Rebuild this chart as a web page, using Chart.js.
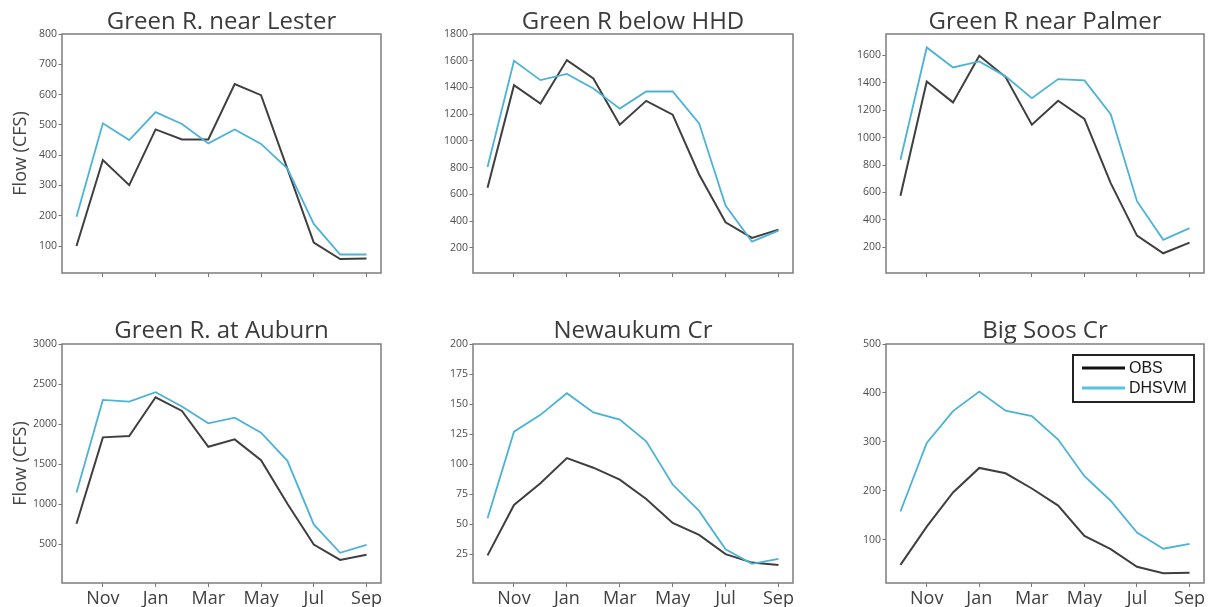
<!DOCTYPE html>
<html>
<head>
<meta charset="utf-8">
<title>Monthly mean flow, OBS vs DHSVM</title>
<script src="https://cdn.jsdelivr.net/npm/chart.js@4.4.1/dist/chart.umd.min.js"></script>
<style>
  html, body { margin: 0; padding: 0; background: #fff; }
  body { width: 1212px; height: 607px; position: relative; overflow: hidden; }
  canvas { position: absolute; }
</style>
</head>
<body>
<canvas id="lester"></canvas>
<canvas id="hhd"></canvas>
<canvas id="palmer"></canvas>
<canvas id="auburn"></canvas>
<canvas id="newaukum"></canvas>
<canvas id="soos"></canvas>
<script>
// water year, Oct..Sep
const months = ['Oct', 'Nov', 'Dec', 'Jan', 'Feb', 'Mar', 'Apr', 'May', 'Jun', 'Jul', 'Aug', 'Sep'];
const monthTicks = [1, 3, 5, 7, 9, 11];

// mean monthly flow (CFS)
const lesterObs   = [100, 384, 301, 485, 452, 452, 635, 598, 355, 111, 57, 59];
const lesterSim   = [197, 505, 450, 542, 503, 439, 485, 437, 356, 173, 72, 72];
const hhdObs      = [650, 1417, 1280, 1605, 1467, 1122, 1300, 1197, 750, 392, 275, 337];
const hhdSim      = [805, 1600, 1455, 1502, 1392, 1242, 1370, 1370, 1132, 517, 247, 330];
const palmerObs   = [575, 1410, 1257, 1598, 1442, 1094, 1269, 1137, 668, 285, 156, 234];
const palmerSim   = [838, 1658, 1512, 1556, 1447, 1288, 1427, 1417, 1171, 536, 254, 339];
const auburnObs   = [759, 1836, 1852, 2336, 2165, 1719, 1811, 1552, 1009, 500, 308, 371];
const auburnSim   = [1147, 2303, 2282, 2399, 2220, 2011, 2082, 1894, 1543, 750, 396, 496];
const newaukumObs = [24, 66, 84, 105, 97, 87, 71, 51, 41, 25, 18, 16];
const newaukumSim = [55, 127, 141, 159, 143, 137, 119, 83, 61, 29, 17, 21];
const soosObs     = [49, 127, 197, 247, 236, 205, 170, 108, 81, 45, 32, 33];
const soosSim     = [158, 298, 363, 403, 364, 353, 305, 230, 180, 115, 82, 92];

// y tick labels per gauge
const lesterTicks   = [100, 200, 300, 400, 500, 600, 700, 800];
const hhdTicks      = [200, 400, 600, 800, 1000, 1200, 1400, 1600, 1800];
const palmerTicks   = [200, 400, 600, 800, 1000, 1200, 1400, 1600];
const auburnTicks   = [500, 1000, 1500, 2000, 2500, 3000];
const newaukumTicks = [25, 50, 75, 100, 125, 150, 175, 200];
const soosTicks     = [100, 200, 300, 400, 500];

const OBS_COLOR = '#3f3f3f';
const SIM_COLOR = '#4cb3d6';

Chart.defaults.font.family = "'Open Sans', sans-serif";
Chart.defaults.color = '#444';

// box around the plot area
const frame = {
  id: 'frame',
  afterDatasetsDraw(chart) {
    const a = chart.chartArea, ctx = chart.ctx;
    ctx.save();
    ctx.strokeStyle = '#7d7d7d';
    ctx.lineWidth = 1.5;
    ctx.strokeRect(a.left, a.top, a.right - a.left, a.bottom - a.top);
    ctx.restore();
  }
};

// boxed legend in the upper right corner
const boxLegend = {
  id: 'boxLegend',
  afterDraw(chart) {
    const a = chart.chartArea, ctx = chart.ctx;
    const w = 121, h = 47;
    const x = a.right - 10 - w, y = a.top + 11;
    ctx.save();
    ctx.fillStyle = '#fff';
    ctx.fillRect(x, y, w, h);
    ctx.strokeStyle = '#222';
    ctx.lineWidth = 2;
    ctx.strokeRect(x, y, w, h);
    ctx.font = "16px 'Liberation Sans', Arial, sans-serif";
    ctx.textBaseline = 'middle';
    const items = [...chart.data.datasets].sort((p, q) => p.legendIndex - q.legendIndex);
    items.forEach((ds, i) => {
      const ly = y + 13 + i * 20;
      ctx.strokeStyle = ds.legendColor;
      ctx.lineWidth = 3;
      ctx.beginPath();
      ctx.moveTo(x + 9, ly);
      ctx.lineTo(x + 52, ly);
      ctx.stroke();
      ctx.fillStyle = '#1a1a1a';
      ctx.fillText(ds.label, x + 56, ly + 1);
    });
    ctx.restore();
  }
};

function points(values) {
  return values.map((v, i) => ({ x: i, y: v }));
}

function panel(id, cfg) {
  const canvas = document.getElementById(id);
  canvas.width = cfg.w;
  canvas.height = cfg.h;
  canvas.style.left = cfg.left + 'px';
  canvas.style.top = cfg.top + 'px';

  return new Chart(canvas, {
    type: 'line',
    data: {
      datasets: [
        { label: 'DHSVM', data: points(cfg.sim), borderColor: SIM_COLOR, borderWidth: 1.8,
          order: 0, legendIndex: 1, legendColor: '#55c4e2' },
        { label: 'OBS', data: points(cfg.obs), borderColor: OBS_COLOR, borderWidth: 2,
          order: 1, legendIndex: 0, legendColor: '#111' }
      ]
    },
    options: {
      responsive: false,
      animation: false,
      devicePixelRatio: 1,
      layout: { padding: { left: 0, right: cfg.padRight, top: 0, bottom: 0 }, autoPadding: false },
      elements: { point: { radius: 0 }, line: { tension: 0 } },
      plugins: {
        legend: { display: false },
        tooltip: { enabled: false },
        title: {
          display: true,
          text: cfg.title,
          fullSize: false,
          color: '#3b3b3b',
          font: { size: 24, weight: 'normal', lineHeight: 1 },
          padding: { top: cfg.titleTop, bottom: cfg.titleBottom }
        }
      },
      scales: {
        x: {
          type: 'linear',
          min: -0.55,
          max: 11.55,
          afterBuildTicks: s => { s.ticks = monthTicks.map(v => ({ value: v })); },
          afterFit: s => { s.height = cfg.xHeight; },
          border: { display: false },
          grid: { drawOnChartArea: false, drawTicks: true, tickLength: 4, tickColor: '#777' },
          ticks: {
            display: cfg.monthLabels,
            autoSkip: false,
            maxRotation: 0,
            padding: 1,
            color: '#404040',
            font: { size: 18 },
            callback: v => months[v]
          }
        },
        y: {
          min: cfg.yMin,
          max: cfg.yMax,
          afterBuildTicks: s => { s.ticks = cfg.yTicks.map(v => ({ value: v })); },
          afterFit: s => { s.width = cfg.yWidth; },
          border: { display: false },
          grid: { drawOnChartArea: false, drawTicks: true, tickLength: 3.5, tickColor: '#777' },
          ticks: {
            padding: 1.5,
            color: '#4d4d4d',
            font: { size: 10.5 },
            callback: v => String(v)
          },
          title: {
            display: cfg.yTitle,
            text: 'Flow (CFS)',
            color: '#444',
            font: { size: 18 },
            padding: { top: 10, bottom: 0 }
          }
        }
      }
    },
    plugins: cfg.legend ? [frame, boxLegend] : [frame]
  });
}

const topRow = { top: 0, h: 285, xHeight: 12, titleTop: 9.7, titleBottom: 0.3, monthLabels: false };
const bottomRow = { top: 300, h: 307, xHeight: 24, titleTop: 19.2, titleBottom: 0.8, monthLabels: true };
const leftCol = { left: 0, w: 385, yWidth: 62, padRight: 4, yTitle: true };
const midCol = { left: 405, w: 392, yWidth: 68, padRight: 4, yTitle: false };
const rightCol = { left: 812, w: 398, yWidth: 74, padRight: 6, yTitle: false };

panel('lester', { ...topRow, ...leftCol, title: 'Green R. near Lester',
  obs: lesterObs, sim: lesterSim, yTicks: lesterTicks, yMin: 11, yMax: 800 });
panel('hhd', { ...topRow, ...midCol, title: 'Green R below HHD',
  obs: hhdObs, sim: hhdSim, yTicks: hhdTicks, yMin: 13, yMax: 1800 });
panel('palmer', { ...topRow, ...rightCol, title: 'Green R near Palmer',
  obs: palmerObs, sim: palmerSim, yTicks: palmerTicks, yMin: 12, yMax: 1756 });
panel('auburn', { ...bottomRow, ...leftCol, title: 'Green R. at Auburn',
  obs: auburnObs, sim: auburnSim, yTicks: auburnTicks, yMin: 20, yMax: 3000 });
panel('newaukum', { ...bottomRow, ...midCol, title: 'Newaukum Cr', yTitle: false,
  obs: newaukumObs, sim: newaukumSim, yTicks: newaukumTicks, yMin: 1, yMax: 200 });
panel('soos', { ...bottomRow, ...rightCol, title: 'Big Soos Cr', legend: true,
  obs: soosObs, sim: soosSim, yTicks: soosTicks, yMin: 12, yMax: 500 });
</script>
</body>
</html>
